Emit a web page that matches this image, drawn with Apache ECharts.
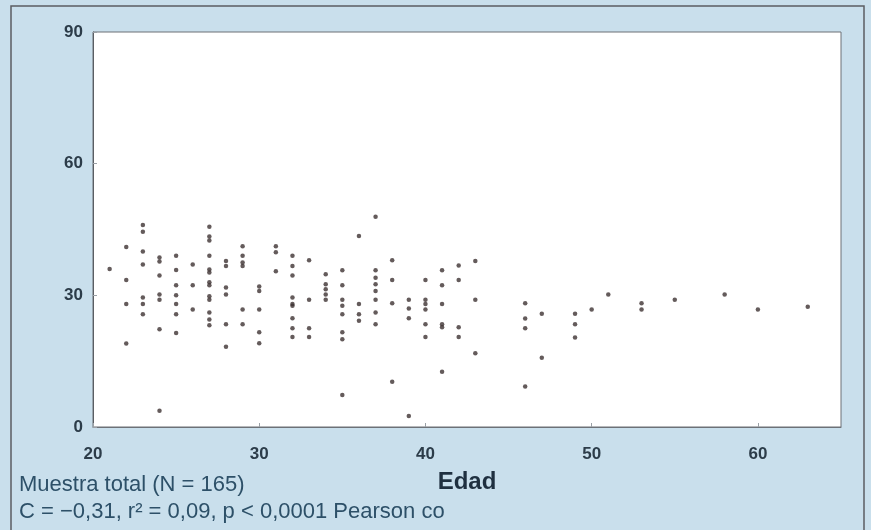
<!DOCTYPE html>
<html>
<head>
<meta charset="utf-8">
<script src="https://cdn.jsdelivr.net/npm/echarts@6/dist/echarts.min.js"></script>
<style>
  html, body { margin: 0; padding: 0; background: #c9dfec; }
  #chart { width: 871px; height: 530px; }
</style>
</head>
<body>
<div id="chart"></div>
<script>
// edad (años) y valores medidos en cada edad
var edades = [21, 22, 23, 24, 25, 26, 27, 28, 29, 30, 31, 32, 33, 34, 35, 36, 37, 38, 39, 40, 41, 42, 43, 46, 47, 49, 50, 51, 53, 55, 58, 60, 63];
var valores = [
    [36],
    [41, 33.5, 28, 19],
    [46, 44.5, 40, 37, 29.5, 28, 25.7],
    [38.6, 37.7, 34.5, 30.2, 29, 22.3, 3.7],
    [39, 35.8, 32.3, 30, 28, 25.7, 21.4],
    [37, 32.3, 26.8],
    [45.6, 43.4, 42.5, 39, 35.9, 35.2, 33, 32.3, 29.8, 29, 26.1, 24.5, 23.2],
    [37.8, 36.7, 31.8, 30.2, 23.4, 18.3],
    [41.2, 39, 37.5, 36.7, 26.8, 23.4],
    [32, 31, 26.8, 21.6, 19.1],
    [41.2, 39.8, 35.5],
    [39, 36.7, 34.5, 29.5, 28, 27.6, 24.8, 22.5, 20.5],
    [38, 29, 22.5, 20.5],
    [34.8, 32.5, 31.4, 30.2, 29],
    [35.7, 32.3, 29, 27.6, 25.7, 21.6, 20, 7.3],
    [43.5, 28, 25.7, 24.2],
    [47.9, 35.7, 34, 32.5, 31, 29, 26.1, 23.4],
    [38, 33.5, 28.2, 10.3],
    [29, 27, 24.8, 2.5],
    [33.5, 29, 28, 26.8, 23.4, 20.5],
    [35.7, 32.3, 28, 23.4, 22.7, 12.6],
    [36.8, 33.5, 22.7, 20.5],
    [37.8, 29, 16.8],
    [28.2, 24.7, 22.5, 9.2],
    [25.8, 15.8],
    [25.8, 23.4, 20.4],
    [26.8],
    [30.2],
    [28.2, 26.8],
    [29],
    [30.2],
    [26.8],
    [27.4]
];
var xTicks = [20, 30, 40, 50, 60];
var yTicks = [0, 30, 60, 90];
var nota1 = "Muestra total (N = 165)";
var nota2 = "C = \u22120,31, r\u00b2 = 0,09, p < 0,0001 Pearson co";

var puntos = [];
edades.map(function (e, i) {
    valores[i].map(function (v) {
        puntos.push([e, v]);
    });
});

var myChart = echarts.init(document.getElementById("chart"), null, { renderer: "canvas" });
var labelStyle = {
    fontFamily: "Liberation Sans",
    fontWeight: "bold",
    fontSize: 17,
    color: "#2c3c49"
};

myChart.setOption({
    backgroundColor: "#c9dfec",
    animation: false,
    grid: {
        left: 93,
        top: 32,
        right: 30,
        bottom: 103,
        show: true,
        backgroundColor: "#ffffff",
        borderColor: "#6d7177",
        borderWidth: 1
    },
    xAxis: {
        type: "value",
        min: 20,
        max: 65,
        interval: 10,
        name: "Edad",
        nameLocation: "middle",
        nameGap: 43,
        nameTextStyle: {
            fontFamily: "Liberation Sans",
            fontWeight: "bold",
            fontSize: 24,
            color: "#1f3040"
        },
        splitLine: { show: false },
        axisLine: { show: true, lineStyle: { color: "#6d7177" } },
        axisTick: { show: true, inside: true, length: 4, lineStyle: { color: "#9aa0a6" } },
        axisLabel: Object.assign({
            margin: 19,
            showMaxLabel: false,
            formatter: function (v) { return xTicks.indexOf(v) >= 0 ? v : ""; }
        }, labelStyle)
    },
    yAxis: {
        type: "value",
        min: 0,
        max: 90,
        interval: 30,
        splitLine: { show: false },
        axisLine: { show: true, lineStyle: { color: "#5a5e63" } },
        axisTick: { show: true, inside: true, length: 4, lineStyle: { color: "#9aa0a6" } },
        axisLabel: Object.assign({
            margin: 10,
            formatter: function (v) { return yTicks.indexOf(v) >= 0 ? v : ""; }
        }, labelStyle)
    },
    series: [{
        type: "scatter",
        data: puntos,
        symbolSize: 4.5,
        itemStyle: { color: "#3d3232" }
    }],
    graphic: [
        {
            type: "rect",
            shape: { x: 11, y: 6, width: 853, height: 540 },
            style: { fill: null, stroke: "#5b5e62", lineWidth: 1.5 },
            silent: true
        },
        {
            type: "text",
            left: 19,
            top: 474,
            style: {
                text: nota1,
                fontFamily: "Liberation Sans",
                fontSize: 22,
                fill: "#2d5068"
            }
        },
        {
            type: "text",
            left: 19,
            top: 501,
            style: {
                text: nota2,
                fontFamily: "Liberation Sans",
                fontSize: 22,
                fill: "#2d5068"
            }
        }
    ]
});
</script>
</body>
</html>
